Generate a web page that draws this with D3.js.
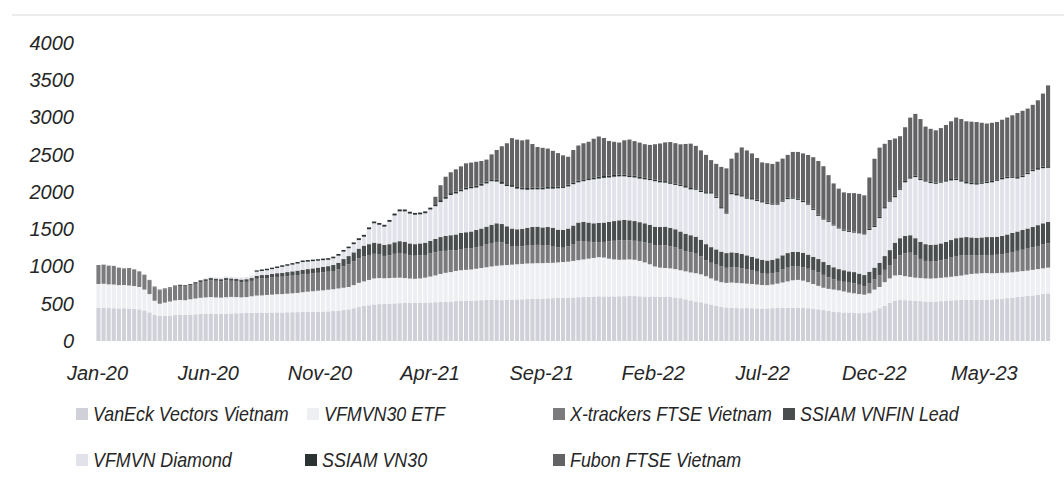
<!DOCTYPE html>
<html>
<head>
<meta charset="utf-8">
<script src="https://cdn.jsdelivr.net/npm/d3@7"></script>
<style>
  body { margin: 0; background: #fff; }
  svg { display: block; }
</style>
</head>
<body>
<svg width="1064" height="490"></svg>
<script>
// weekly observations, first Friday of 2020 onward (187 weeks)
const firstWeek = new Date(2020, 0, 3);

const seriesNames = ['VanEck Vectors Vietnam', 'VFMVN30 ETF', 'X-trackers FTSE Vietnam', 'SSIAM VNFIN Lead',
  'VFMVN Diamond', 'SSIAM VN30', 'Fubon FTSE Vietnam'];

const vaneck = [445,448,442,440,438,440,436,432,425,410,
  385,350,335,340,342,348,350,352,355,358,
  362,365,368,366,364,368,370,372,374,375,
  378,380,378,380,382,384,383,385,386,388,
  390,392,391,393,395,398,402,408,415,425,
  440,455,470,480,490,495,498,500,505,508,
  510,512,510,512,515,518,520,525,528,530,
  535,538,540,542,545,548,550,552,550,548,
  552,555,558,560,562,565,568,570,573,575,
  578,580,582,585,588,590,593,596,600,598,
  596,598,600,602,605,603,600,598,596,595,
  594,592,590,585,575,560,545,530,520,505,
  490,475,460,450,445,442,440,442,440,438,
  436,438,440,442,444,445,446,445,443,440,
  435,425,415,405,395,388,382,378,375,374,
  375,385,410,440,475,510,540,550,548,545,
  540,535,530,528,530,535,540,545,548,550,
  550,552,550,552,555,558,562,568,575,582,
  590,598,605,612,620,630,640];

const vfmvn30 = [320,320,318,318,312,312,309,306,300,280,
  245,190,165,175,188,197,200,196,205,212,
  218,220,222,219,218,220,222,218,212,215,
  222,230,234,238,240,244,247,250,254,257,
  265,270,277,282,285,290,293,297,300,300,
  310,325,330,340,350,350,344,345,343,342,
  335,326,325,328,335,347,360,375,387,395,
  405,412,415,418,425,432,440,448,460,467,
  468,470,472,475,478,477,477,475,475,475,
  477,480,483,490,497,505,512,519,525,522,
  509,497,490,490,490,487,475,457,434,405,
  391,388,385,380,375,375,375,380,375,365,
  350,335,330,330,340,338,335,328,325,320,
  316,312,318,328,341,355,369,375,367,350,
  330,315,300,295,295,292,283,272,265,256,
  247,255,280,285,315,330,340,335,322,315,
  310,310,310,310,312,313,315,317,322,328,
  340,348,355,358,357,352,350,347,343,340,
  340,340,340,343,345,345,345];

const xtrackers = [255,257,252,250,235,223,235,224,210,200,
  185,182,180,178,176,185,189,184,185,198,
  211,219,227,223,218,225,216,208,204,204,
  207,225,231,227,230,232,233,235,237,240,
  238,238,239,240,243,242,245,255,285,305,
  320,330,340,335,330,315,300,305,322,330,
  325,314,310,312,305,310,310,305,295,290,
  280,285,285,285,290,295,305,315,320,310,
  280,250,238,235,240,246,245,235,234,225,
  200,192,205,227,250,247,227,209,202,210,
  233,250,262,263,257,255,258,267,278,287,
  297,305,297,290,280,270,270,262,243,215,
  210,215,210,202,205,207,200,190,180,172,
  160,152,152,155,175,185,184,179,180,180,
  180,180,173,155,140,127,130,133,135,125,
  115,138,135,155,165,180,220,265,305,325,
  298,257,235,227,227,234,243,257,270,270,
  263,250,242,242,243,245,246,250,262,273,
  280,287,295,300,310,320,325];

const vnfin = [0,0,0,0,0,0,0,0,0,0,
  5,8,10,12,14,15,16,18,20,22,
  24,26,28,30,30,32,32,34,35,36,
  38,40,42,45,48,50,52,55,58,60,
  62,65,68,70,72,75,80,90,100,110,
  120,130,140,145,150,150,148,150,155,160,
  160,158,155,158,165,170,180,190,200,205,
  210,215,220,225,230,235,240,245,250,245,
  240,235,232,235,240,242,245,245,248,245,
  240,238,240,248,255,258,258,256,258,260,
  262,265,268,270,268,265,262,258,252,248,
  248,250,248,245,240,235,230,228,222,215,
  210,205,200,198,200,198,195,190,185,180,
  178,178,180,185,190,195,196,196,195,190,
  185,180,172,165,160,158,155,152,150,150,
  148,152,160,170,185,200,220,230,235,235,
  232,228,225,225,226,228,232,236,240,242,
  242,240,238,238,240,240,242,245,250,255,
  260,265,270,275,280,285,290];

const diamond = [0,0,0,0,0,0,0,0,0,0,
  0,0,0,0,0,0,0,0,0,0,
  0,10,12,15,18,20,22,25,28,30,
  35,55,55,60,65,70,80,85,90,95,
  105,100,97,93,90,85,90,95,100,105,
  110,115,120,200,260,250,245,300,360,400,
  410,400,395,390,395,420,440,470,500,540,
  550,560,575,580,570,575,580,585,560,540,
  540,560,545,530,510,505,500,510,515,525,
  555,565,565,555,540,545,570,590,595,600,
  595,595,590,585,580,585,585,590,600,610,
  600,590,590,595,610,620,615,630,640,680,
  720,690,580,530,780,770,770,760,770,770,
  770,760,740,720,720,725,715,700,680,670,
  630,580,570,580,560,545,530,530,530,540,
  545,560,545,600,640,650,610,650,720,760,
  820,830,840,830,815,815,810,800,780,750,
  720,715,715,720,725,735,750,760,755,740,
  710,710,730,750,745,740,725];

const vn30 = [0,0,0,0,0,0,0,0,0,0,
  0,0,0,0,0,0,0,0,0,0,
  0,0,0,0,0,0,0,0,0,0,
  0,18,20,20,19,20,21,20,20,21,
  20,21,20,20,21,22,22,23,22,22,
  23,24,25,25,24,24,25,25,26,26,
  25,25,24,24,25,25,26,26,25,25,
  24,24,25,25,26,26,25,25,24,24,
  24,23,23,23,24,24,24,23,23,23,
  22,22,23,23,24,24,24,25,25,25,
  25,24,24,24,24,23,23,22,22,21,
  21,21,21,20,20,20,19,19,19,18,
  18,18,17,17,18,18,18,18,18,17,
  17,17,17,17,18,18,18,18,18,17,
  17,16,16,16,15,15,15,15,15,15,
  15,15,16,16,17,18,18,19,19,19,
  19,19,18,18,18,18,19,19,19,19,
  19,19,19,19,19,19,20,20,20,20,
  20,20,20,20,21,21,21];

const fubon = [0,0,0,0,0,0,0,0,0,0,
  0,0,0,0,0,0,0,0,0,0,
  0,0,0,0,0,0,0,0,0,0,
  0,0,0,0,0,0,0,0,0,0,
  0,0,0,0,0,0,0,0,0,0,
  0,0,0,0,0,0,0,0,0,0,
  0,0,0,0,0,0,100,200,270,280,
  300,310,325,320,320,305,295,335,400,480,
  550,630,635,635,650,585,545,535,515,485,
  450,415,375,435,470,485,490,520,540,510,
  465,445,430,460,480,465,460,450,450,475,
  500,520,540,540,540,565,595,570,540,500,
  430,440,540,590,460,555,640,630,600,560,
  520,530,530,560,560,575,610,625,635,650,
  690,720,700,610,550,520,500,505,515,515,
  510,690,900,930,850,810,770,700,720,800,
  830,800,720,710,700,715,740,775,820,820,
  815,820,820,800,780,780,770,780,795,820,
  860,870,860,870,910,980,1085];

const yTicks = [0, 500, 1000, 1500, 2000, 2500, 3000, 3500, 4000];
const xTickMonths = ['2020-01', '2020-06', '2020-11', '2021-04', '2021-09', '2022-02', '2022-07', '2022-12', '2023-05'];

const colors = ['#cfd0d8', '#eeeff3', '#7b7b7e', '#4a4d4d', '#e2e3ea', '#2b3433', '#636365'];

// build table for the stack
const allSeries = [vaneck, vfmvn30, xtrackers, vnfin, diamond, vn30, fubon];
const table = vaneck.map(function (v, i) {
  var row = { date: d3.timeDay.offset(firstWeek, i * 7) };
  seriesNames.forEach(function (name, k) { row[name] = allSeries[k][i]; });
  return row;
});

const svg = d3.select('svg');

// faint frame line from the scanned page
svg.append('line')
  .attr('x1', 12).attr('x2', 1064).attr('y1', 15).attr('y2', 15)
  .attr('stroke', '#ececec').attr('stroke-width', 2);

const x = d3.scaleTime()
  .domain([new Date(2020, 0, 1), new Date(2023, 7, 1)])
  .range([97, 1051]);
const y = d3.scaleLinear().domain([0, 4000]).range([341, 43]);

const barW = 4.1;
const stacked = d3.stack().keys(seriesNames)(table);

svg.append('g')
  .selectAll('g')
  .data(stacked)
  .enter()
  .append('g')
  .attr('fill', function (d, i) { return colors[i]; })
  .selectAll('rect')
  .data(function (d) { return d.filter(function (p) { return p[1] - p[0] > 0; }); })
  .enter()
  .append('rect')
  .attr('x', function (d) { return x(d.data.date) - barW / 2; })
  .attr('y', function (d) { return y(d[1]); })
  .attr('width', barW)
  .attr('height', function (d) { return y(d[0]) - y(d[1]); });

// y axis
const yAxis = svg.append('g')
  .attr('transform', 'translate(95,0)')
  .call(d3.axisLeft(y).tickValues(yTicks).tickFormat(d3.format('d')).tickSize(0).tickPadding(21));
yAxis.select('.domain').remove();
yAxis.selectAll('text')
  .attr('font-family', 'Liberation Sans, Arial, sans-serif')
  .attr('font-style', 'italic')
  .attr('font-size', 20)
  .attr('fill', '#262626');

// x axis
const xAxis = svg.append('g')
  .attr('transform', 'translate(0,341)')
  .call(d3.axisBottom(x)
    .tickValues(xTickMonths.map(d3.timeParse('%Y-%m')))
    .tickFormat(d3.timeFormat('%b-%y'))
    .tickSize(0).tickPadding(25));
xAxis.select('.domain').remove();
xAxis.selectAll('text')
  .attr('font-family', 'Liberation Sans, Arial, sans-serif')
  .attr('font-style', 'italic')
  .attr('font-size', 20)
  .attr('fill', '#262626');

// legend, two rows like the original
const legendPos = [[76, 414], [307, 414], [553, 414], [783, 414], [76, 460], [305, 460], [553, 460]];
const legend = svg.append('g')
  .selectAll('g')
  .data(seriesNames)
  .enter()
  .append('g')
  .attr('transform', function (d, i) { return 'translate(' + legendPos[i][0] + ',' + legendPos[i][1] + ')'; });

legend.append('rect')
  .attr('x', 0).attr('y', -6)
  .attr('width', 12).attr('height', 12)
  .attr('fill', function (d, i) { return colors[i]; });

// condensed italic text, squeezed horizontally
legend.append('text')
  .attr('transform', 'translate(17,0) scale(0.85,1)')
  .attr('dy', '0.35em')
  .attr('font-family', 'Liberation Sans, Arial, sans-serif')
  .attr('font-style', 'italic')
  .attr('font-size', 21)
  .attr('fill', '#262626')
  .text(function (d) { return d; });
</script>
</body>
</html>
